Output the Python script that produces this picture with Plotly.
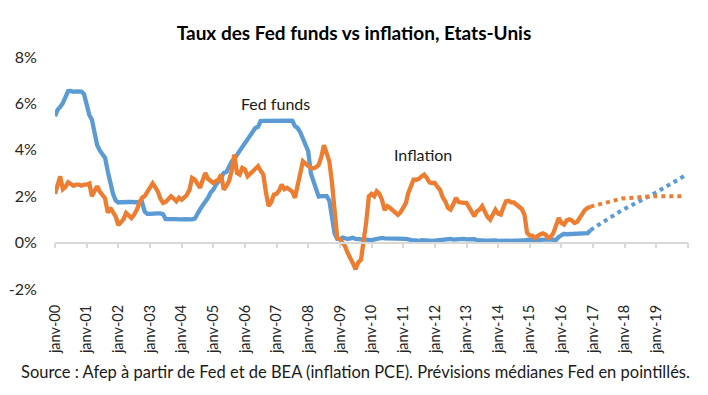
import pandas as pd
import plotly.graph_objects as go

# Monthly observations, Jan 2000 .. Dec 2016
months = pd.date_range("2000-01-01", "2016-12-01", freq="MS").strftime("%Y-%m-%d").tolist()

fed_funds = [
    5.45, 5.73, 5.85, 6.02, 6.27, 6.53, 6.54, 6.50, 6.52, 6.51, 6.51, 6.40,
    5.98, 5.49, 5.31, 4.80, 4.21, 3.97, 3.77, 3.65, 3.07, 2.49, 2.09, 1.82,
    1.73, 1.74, 1.73, 1.75, 1.75, 1.75, 1.73, 1.74, 1.75, 1.75, 1.34, 1.24,
    1.24, 1.26, 1.25, 1.26, 1.26, 1.22, 1.01, 1.03, 1.01, 1.01, 1.00, 0.98,
    1.00, 1.01, 1.00, 1.00, 1.00, 1.03, 1.26, 1.43, 1.61, 1.76, 1.93, 2.16,
    2.28, 2.50, 2.63, 2.79, 3.00, 3.04, 3.26, 3.50, 3.62, 3.78, 4.00, 4.16,
    4.29, 4.49, 4.59, 4.79, 4.94, 4.99, 5.24, 5.25, 5.25, 5.25, 5.25, 5.24,
    5.25, 5.26, 5.26, 5.25, 5.25, 5.25, 5.26, 5.02, 4.94, 4.76, 4.49, 4.24,
    3.94, 2.98, 2.61, 2.28, 1.98, 2.00, 2.01, 2.00, 1.81, 0.97, 0.39, 0.16,
    0.15, 0.22, 0.18, 0.15, 0.18, 0.21, 0.16, 0.16, 0.15, 0.12, 0.12, 0.12,
    0.11, 0.13, 0.16, 0.20, 0.20, 0.18, 0.18, 0.19, 0.19, 0.19, 0.19, 0.18,
    0.17, 0.16, 0.14, 0.10, 0.09, 0.09, 0.07, 0.10, 0.08, 0.07, 0.08, 0.07,
    0.08, 0.10, 0.13, 0.14, 0.16, 0.16, 0.16, 0.13, 0.14, 0.16, 0.16, 0.16,
    0.14, 0.15, 0.14, 0.15, 0.11, 0.09, 0.09, 0.08, 0.08, 0.09, 0.08, 0.09,
    0.07, 0.07, 0.08, 0.09, 0.09, 0.10, 0.09, 0.09, 0.09, 0.09, 0.09, 0.12,
    0.11, 0.11, 0.11, 0.12, 0.12, 0.13, 0.13, 0.14, 0.14, 0.12, 0.12, 0.24,
    0.34, 0.38, 0.36, 0.37, 0.37, 0.38, 0.39, 0.40, 0.40, 0.40, 0.41, 0.54,
]

inflation = [
    2.10, 2.50, 2.85, 2.30, 2.40, 2.60, 2.55, 2.45, 2.50, 2.50, 2.45, 2.50,
    2.50, 2.55, 2.00, 2.20, 2.43, 2.20, 2.07, 1.90, 1.29, 1.50, 1.30, 1.13,
    0.75, 0.85, 1.00, 1.28, 1.15, 1.06, 1.20, 1.40, 1.71, 1.93, 2.00, 2.21,
    2.35, 2.55, 2.40, 2.21, 1.90, 1.71, 1.75, 1.85, 2.00, 1.90, 1.78, 1.93,
    1.85, 1.95, 2.05, 2.28, 2.79, 2.72, 2.50, 2.36, 2.70, 3.00, 2.75, 2.65,
    2.57, 2.65, 2.71, 2.93, 2.28, 2.45, 2.65, 3.10, 3.79, 3.00, 2.93, 3.22,
    3.15, 2.86, 2.95, 3.07, 3.20, 3.29, 3.10, 2.93, 2.14, 1.57, 1.75, 2.07,
    2.10, 2.25, 2.50, 2.30, 2.36, 2.25, 2.20, 1.93, 2.40, 2.90, 3.50, 3.40,
    3.30, 3.22, 3.20, 3.25, 3.35, 3.70, 4.20, 3.90, 3.50, 2.60, 1.20, 0.20,
    0.15, 0.00, -0.16, -0.45, -0.73, -0.90, -1.15, -0.85, -0.75, 0.00, 0.90, 2.00,
    2.10, 2.00, 2.21, 2.10, 1.85, 1.40, 1.57, 1.50, 1.40, 1.30, 1.20, 1.30,
    1.50, 1.70, 2.14, 2.50, 2.71, 2.71, 2.75, 2.85, 2.93, 2.79, 2.60, 2.57,
    2.57, 2.40, 2.28, 1.95, 1.78, 1.50, 1.42, 1.65, 1.93, 1.75, 1.71, 1.71,
    1.71, 1.50, 1.28, 1.14, 1.35, 1.42, 1.57, 1.30, 1.10, 0.99, 1.20, 1.42,
    1.25, 1.21, 1.50, 1.78, 1.80, 1.73, 1.73, 1.65, 1.57, 1.45, 1.20, 0.42,
    0.30, 0.30, 0.20, 0.30, 0.35, 0.40, 0.35, 0.20, 0.25, 0.42, 0.70, 1.06,
    0.85, 0.78, 0.95, 1.00, 0.95, 0.85, 0.90, 1.10, 1.25, 1.42, 1.50, 1.55,
]

# Fed median projections (dotted), end of year
forecast_dates = ["2016-12-01", "2017-12-01", "2018-12-01", "2019-12-01"]
fed_funds_forecast = [0.54, 1.4, 2.1, 2.9]
inflation_forecast = [1.55, 1.9, 2.0, 2.0]

tick_dates = pd.date_range("2000-01-01", "2019-01-01", freq="YS").strftime("%Y-%m-%d").tolist()
tick_labels = ["janv-%02d" % (y % 100) for y in range(2000, 2020)]
y_ticks = [-2, 0, 2, 4, 6, 8]
y_tick_labels = ["-2%", "0%", "2%", "4%", "6%", "8%"]

BLUE = "#5b9bd5"
ORANGE = "#ed7d31"
FONT = "Lato"
x_range = ["2000-01-01", "2020-01-01"]

fig = go.Figure()
fig.add_trace(go.Scatter(x=months, y=fed_funds, mode="lines", name="Fed funds",
                         line=dict(color=BLUE, width=4.3)))
fig.add_trace(go.Scatter(x=months, y=inflation, mode="lines", name="Inflation",
                         line=dict(color=ORANGE, width=4.3)))
fig.add_trace(go.Scatter(x=forecast_dates, y=fed_funds_forecast, mode="lines",
                         line=dict(color=BLUE, width=4, dash="4px,4px")))
fig.add_trace(go.Scatter(x=forecast_dates, y=inflation_forecast, mode="lines",
                         line=dict(color=ORANGE, width=4, dash="4px,4px")))

fig.add_annotation(x="2006-12-15", y=6.0, text="Fed funds", showarrow=False,
                   font=dict(family=FONT, size=16, color="#1a1a1a"))
fig.add_annotation(x="2011-08-15", y=3.8, text="Inflation", showarrow=False,
                   font=dict(family=FONT, size=16, color="#1a1a1a"))
fig.add_annotation(xref="paper", yref="paper", x=0.4755, y=-0.358,
                   xanchor="center", yanchor="middle", showarrow=False,
                   text="Source : Afep à partir de Fed et de BEA (inflation PCE). Prévisions médianes Fed en pointillés.",
                   font=dict(family=FONT, size=16.5, color="#1a1a1a"))

fig.update_layout(
    width=708, height=395,
    margin=dict(l=55, r=20, t=57, b=106, autoexpand=False),
    paper_bgcolor="white", plot_bgcolor="white",
    showlegend=False,
    title=dict(text="<b>Taux des Fed funds vs inflation, Etats-Unis</b>",
               x=0.5, xanchor="center", y=1 - 33 / 395, yanchor="middle",
               font=dict(family=FONT, size=19, color="#000000")),
    xaxis=dict(type="date", range=x_range, tickvals=tick_dates, ticktext=tick_labels,
               tickangle=-90, showgrid=False, zeroline=False, showline=False,
               ticks="outside", ticklen=9, tickcolor="rgba(0,0,0,0)", automargin=False,
               tickfont=dict(family=FONT, size=14.5, color="#262626")),
    xaxis2=dict(type="date", range=x_range, overlaying="x", anchor="free", position=0.2,
                side="bottom", showline=True, linecolor="#d9d9d9", linewidth=1.5,
                ticks="outside", ticklen=5, tickcolor="#d9d9d9", tickwidth=1.5,
                tickvals=tick_dates + ["2020-01-01"], showticklabels=False,
                showgrid=False, zeroline=False, automargin=False),
    yaxis=dict(range=[-2, 8], tickvals=y_ticks, ticktext=y_tick_labels, showgrid=False,
               zeroline=False, showline=False, ticks="outside", ticklen=14,
               tickcolor="rgba(0,0,0,0)", automargin=False,
               tickfont=dict(family=FONT, size=16, color="#262626")),
)
# invisible helper trace so that the zero axis (xaxis2) is drawn
fig.add_trace(go.Scatter(x=x_range, y=[0, 0], xaxis="x2", mode="lines",
                         line=dict(width=0), hoverinfo="skip", showlegend=False))

fig.write_html("out.html", config={"displayModeBar": False},
               post_script="document.body.style.margin='0';")
